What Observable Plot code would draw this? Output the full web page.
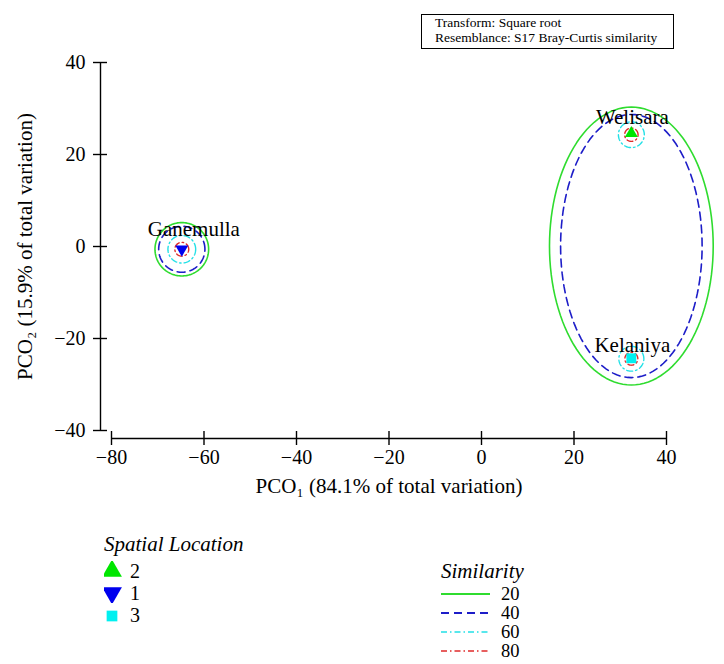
<!DOCTYPE html>
<html>
<head>
<meta charset="utf-8">
<script src="https://cdn.jsdelivr.net/npm/d3@7"></script>
<script src="https://cdn.jsdelivr.net/npm/@observablehq/plot@0.6"></script>
<style>
  html, body { margin: 0; padding: 0; background: #fff; }
  #wrap { position: relative; width: 724px; height: 664px; overflow: hidden; font-family: "Liberation Serif", "DejaVu Serif", serif; color: #000; }
  #box { position: absolute; left: 421px; top: 14px; width: 238px; height: 32px; border: 1.6px solid #000; font-size: 13.5px; line-height: 14.5px; padding: 1px 0 0 13px; box-sizing: content-box; white-space: nowrap; }
  .legtitle { position: absolute; font-style: italic; font-size: 21px; white-space: nowrap; }
  .legrow { position: absolute; font-size: 20px; white-space: nowrap; line-height: 20px; }
  .simrow { position: absolute; font-size: 18.5px; white-space: nowrap; line-height: 18px; height: 18px; }
</style>
</head>
<body>
<div id="wrap">
  <div id="chart"></div>
  <div id="box"></div>
  <div id="legends"></div>
</div>
<script>
// ---------- data ----------
const xDomain = [-80, 40];
const yDomain = [-40, 40];
const xTicks = [-80, -60, -40, -20, 0, 20, 40];
const yTicks = [-40, -20, 0, 20, 40];
const xTitle = "PCO\u2081 (84.1% of total variation)";
const yTitle = "PCO\u2082 (15.9% of total variation)";
const infoLines = ["Transform: Square root", "Resemblance: S17 Bray-Curtis similarity"];

const siteNames = ["Welisara", "Ganemulla", "Kelaniya"];
const siteCodes = ["2", "1", "3"];
const siteX = [32.4, -64.8, 32.4];
const siteY = [24.6, -0.6, -24.3];

const contourGroup = ["Ganemulla", "Ganemulla", "Ganemulla", "Ganemulla", "Welisara+Kelaniya", "Welisara+Kelaniya", "Welisara", "Welisara", "Kelaniya", "Kelaniya"];
const contourLevel = [20, 40, 60, 80, 20, 40, 60, 80, 60, 80];
const contourCX = [-64.8, -64.8, -64.8, -64.8, 32.4, 32.4, 32.4, 32.4, 32.4, 32.4];
const contourCY = [-0.6, -0.6, -0.6, -0.6, 0.1, 0.1, 24.3, 24.3, -24.4, -24.4];
const contourRX = [5.8, 5.0, 3.0, 1.5, 17.7, 15.3, 2.8, 1.45, 2.7, 1.4];
const contourRY = [5.8, 5.0, 3.0, 1.5, 30.2, 28.6, 2.8, 1.45, 2.7, 1.4];

const legendLocationTitle = "Spatial Location";
const legendSimilarityTitle = "Similarity";
const similarityLevels = [20, 40, 60, 80];

// ---------- styles ----------
const levelStyle = {
  20: {stroke: "#2fdc2f", dash: null, width: 1.6},
  40: {stroke: "#1d1dc8", dash: "8,5", width: 1.6},
  60: {stroke: "#22e0e6", dash: "6,3,1.5,3", width: 1.4},
  80: {stroke: "#e02a2a", dash: "6,3,1.5,3", width: 1.4}
};
const siteStyle = {
  "2": {symbol: "triangle", fill: "#00e600", rotate: 0, r: 4.8, legendSymbol: d3.symbolTriangle, legendRotate: 0},
  "1": {symbol: "triangle", fill: "#0000ee", rotate: 180, r: 4.8, legendSymbol: d3.symbolTriangle, legendRotate: 180},
  "3": {symbol: "square", fill: "#00f0f0", rotate: 0, r: 5.6, legendSymbol: d3.symbolSquare, legendRotate: 0}
};
const labelDy = {"Welisara": -16, "Ganemulla": -20, "Kelaniya": -13};
const labelDx = {"Welisara": 1, "Ganemulla": 12, "Kelaniya": 1};

// ---------- derived tables ----------
const sites = siteNames.map((name, i) => ({name, code: siteCodes[i], x: siteX[i], y: siteY[i]}));
const contourPts = [];
contourGroup.forEach((g, i) => {
  const n = 120;
  for (let k = 0; k <= n; k++) {
    const t = (2 * Math.PI * k) / n;
    contourPts.push({id: g + "-" + contourLevel[i], level: contourLevel[i],
      x: contourCX[i] + contourRX[i] * Math.cos(t),
      y: contourCY[i] + contourRY[i] * Math.sin(t)});
  }
});

const fmt = d => (d < 0 ? "\u2212" + Math.abs(d) : String(d));

const contourMarks = similarityLevels.map(lv => Plot.line(contourPts.filter(p => p.level === lv), {
  x: "x", y: "y", z: "id",
  stroke: levelStyle[lv].stroke,
  strokeWidth: levelStyle[lv].width,
  strokeDasharray: levelStyle[lv].dash
}));

const dotMarks = sites.map(s => Plot.dot([s], {
  x: "x", y: "y",
  symbol: siteStyle[s.code].symbol,
  fill: siteStyle[s.code].fill,
  stroke: "none",
  r: siteStyle[s.code].r,
  rotate: siteStyle[s.code].rotate
}));

const labelMarks = sites.map(s => Plot.text([s], {
  x: "x", y: "y", text: "name",
  dy: labelDy[s.name], dx: labelDx[s.name],
  fontSize: 21, fill: "black"
}));

const chart = Plot.plot({
  width: 724,
  height: 500,
  marginLeft: 111,
  marginRight: 58,
  marginTop: 62,
  marginBottom: 70,
  x: {domain: xDomain},
  y: {domain: yDomain},
  style: {fontFamily: "Liberation Serif, DejaVu Serif, serif", fontSize: "20px", color: "black", background: "white", overflow: "visible"},
  marks: [
    Plot.ruleX([xDomain[0]], {y1: yDomain[0], y2: yDomain[1], dx: -11, stroke: "black", strokeWidth: 1.4}),
    Plot.axisY({ticks: yTicks, tickSize: 14, dx: -4, tickPadding: 8, tickFormat: fmt, label: null, fontSize: 20, strokeWidth: 1.4}),
    Plot.ruleY([yDomain[0]], {x1: xDomain[0], x2: xDomain[1], dy: 8, stroke: "black", strokeWidth: 1.4}),
    Plot.axisX({ticks: xTicks, tickSize: 14, dy: 1, tickPadding: 4, tickFormat: fmt, label: null, fontSize: 20, strokeWidth: 1.4}),
    Plot.text([xTitle], {frameAnchor: "bottom", dy: 62, fontSize: 21}),
    Plot.text([yTitle], {frameAnchor: "left", dx: -86, rotate: -90, textAnchor: "middle", fontSize: 21}),
    ...contourMarks,
    ...dotMarks,
    ...labelMarks
  ]
});
document.getElementById("chart").appendChild(chart);

// info box text from data
document.getElementById("box").innerHTML = infoLines.map(t => `<div>${t}</div>`).join("");

// ---------- legends ----------
const leg = document.getElementById("legends");
let html = "";
html += `<div class="legtitle" style="left:104px;top:532px">${legendLocationTitle}</div>`;
const locTops = [561, 583, 605];
siteCodes.forEach((c, i) => {
  const st = siteStyle[c];
  const size = c === "3" ? 115 : 170;
  const path = d3.symbol().type(st.legendSymbol).size(size)();
  html += `<div class="legrow" style="left:104px;top:${locTops[i]}px">
    <svg width="18" height="20" style="vertical-align:top"><path d="${path}" transform="translate(8,${c === "3" ? 11 : 10}) rotate(${st.legendRotate})" fill="${st.fill}"/></svg>
    <span style="position:absolute;left:26px;top:0">${c}</span></div>`;
});
html += `<div class="legtitle" style="left:441px;top:559px">${legendSimilarityTitle}</div>`;
const simTops = [585, 604, 623, 642];
similarityLevels.forEach((lv, i) => {
  const st = levelStyle[lv];
  html += `<div class="simrow" style="left:440px;top:${simTops[i]}px">
    <svg width="52" height="18" style="vertical-align:top"><line x1="1" x2="50" y1="9" y2="9" stroke="${st.stroke}" stroke-width="${st.width + 0.3}" ${st.dash ? `stroke-dasharray="${st.dash}"` : ""}/></svg>
    <span style="position:absolute;left:61px;top:0">${lv}</span></div>`;
});
leg.innerHTML = html;
</script>
</body>
</html>
